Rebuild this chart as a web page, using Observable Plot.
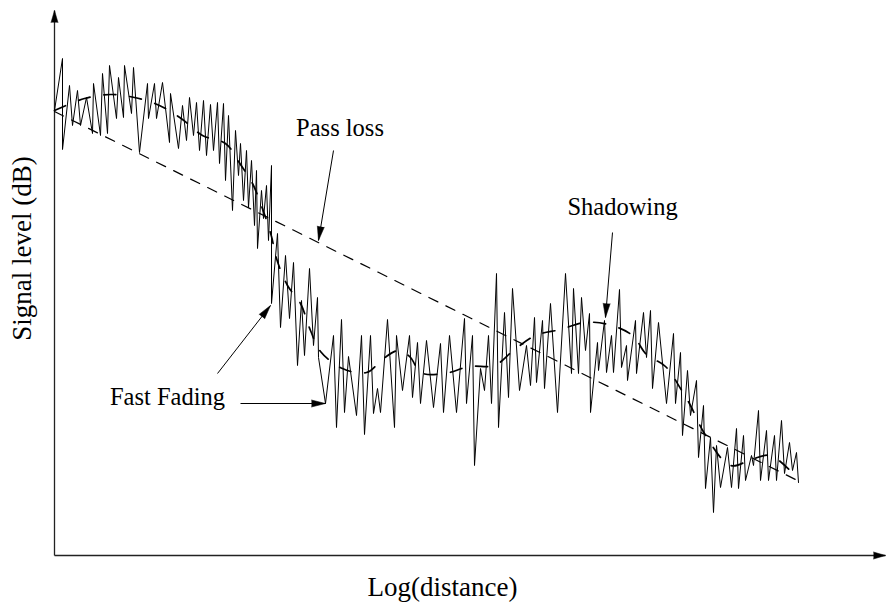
<!DOCTYPE html>
<html>
<head>
<meta charset="utf-8">
<script src="https://cdn.jsdelivr.net/npm/d3@7"></script>
<script src="https://cdn.jsdelivr.net/npm/@observablehq/plot@0.6"></script>
<style>html,body{margin:0;padding:0;background:#fff;}</style>
</head>
<body>
<div id="chart"></div>
<script>
// Fast-fading (received signal) samples: log distance vs signal level (arbitrary units)
const distance = [0,8,8,15,18,23,26,32,38,39,46,48,53,55,62,64,69,70,77,79,
  85,93,94,100,102,108,115,116,124,128,132,135,139,142,145,149,152,156,159,163,
  165,169,171,174,178,181,184,186,189,192,194,197,200,202,203,207,209,212,214,217,
  217,223,226,231,235,239,243,247,250,255,259,263,264,271,279,282,287,290,294,302,
  307,310,316,319,323,326,333,340,342,348,355,358,363,366,372,379,386,389,395,402,
  410,412,418,420,426,430,434,437,442,444,450,454,458,465,472,476,480,482,488,490,
  496,503,511,517,519,524,527,531,535,536,543,544,550,552,557,559,565,567,572,573,
  581,582,589,592,596,598,604,612,619,621,626,628,633,636,642,644,649,651,656,659,
  662,666,673,677,682,684,689,691,697,699,704,706,712,714,720,722,727,730,735,738,
  742,744];
const level = [445,497,406,470,430,465,430,458,422,472,420,482,422,490,437,478,438,490,442,488,
  403,472,437,472,437,473,413,462,407,450,415,458,420,453,405,455,400,451,405,453,
  392,452,375,440,345,425,380,412,355,405,348,395,330,385,307,365,337,370,315,390,
  252,322,228,300,237,293,190,255,200,287,210,258,198,152,220,128,236,143,199,140,
  220,121,220,142,167,143,236,128,220,165,220,158,213,152,215,148,212,143,220,143,
  237,152,220,90,187,165,220,152,282,128,243,158,267,165,210,170,238,173,235,167,
  252,143,282,182,267,182,258,205,242,143,213,185,235,183,220,183,266,188,210,175,
  235,182,243,198,245,167,233,152,222,152,203,120,185,140,175,98,150,67,118,43,
  110,68,108,68,127,67,120,75,100,90,145,75,125,75,120,75,135,82,113,85,
  103,73];

// Path loss (straight dashed line)
const passDist = [0, 743];
const passLevel = [444, 75];

// Shadowing (slow dashed curve)
const shadowDist = [0,30,56,80,105,128,148,171,186,198,209,217,222,233,246,256,266,288,312,329,344,356,366,390,415,440,459,481,506,530,554,578,592,611,626,636,650,676,697,716,743];
const shadowLevel = [445,457,461,458,450,436,420,412,391,372,344,319,297,270,252,225,204,187,183,197,205,198,183,182,189,190,205,220,226,233,231,220,201,189,167,150,122,90,96,100,77];

// Annotations
const annLabels = ["Pass loss", "Shadowing", "Fast Fading"];
const annDist = [285.5, 568, 113];
const annLevel = [420, 341, 151];
const arrowX1 = [279, 558, 163, 186];
const arrowY1 = [405, 323, 182, 152];
const arrowX2 = [264, 551, 216, 271];
const arrowY2 = [315, 238, 250, 152];

// Axes (drawn as arrows)
const axisX1 = [0, 0];
const axisY1 = [0, 0];
const axisX2 = [0, 831];
const axisY2 = [545, 0];

const xLabel = "Log(distance)";
const yLabel = "Signal level (dB)";
const xLabelPos = [388, -40];
const yLabelPos = [-24, 307];

const noise = distance.map((d, i) => ({d, v: level[i]}));
const pass = passDist.map((d, i) => ({d, v: passLevel[i]}));
const shadow = shadowDist.map((d, i) => ({d, v: shadowLevel[i]}));
const anns = annLabels.map((t, i) => ({t, d: annDist[i], v: annLevel[i]}));
const arrows = arrowX1.map((x1, i) => ({x1, y1: arrowY1[i], x2: arrowX2[i], y2: arrowY2[i]}));
const axes = axisX1.map((x1, i) => ({x1, y1: axisY1[i], x2: axisX2[i], y2: axisY2[i]}));
const angle = (a) => Math.atan2(a.x2 - a.x1, a.y2 - a.y1) * 180 / Math.PI;

const serif = "Liberation Serif, Times New Roman, serif";

const plot = Plot.plot({
  width: 887,
  height: 607,
  marginLeft: 54,
  marginRight: 2,
  marginTop: 10,
  marginBottom: 52,
  x: {domain: [0, 831], axis: null},
  y: {domain: [0, 545], axis: null},
  style: {background: "white", fontFamily: serif, overflow: "visible"},
  marks: [
    Plot.link(axes, {x1: "x1", y1: "y1", x2: "x2", y2: "y2", stroke: "#222", strokeWidth: 1.3}),
    Plot.vector(axes, {x: "x2", y: "y2", rotate: angle, length: 12, r: 3.5, anchor: "end", shape: "spike", fill: "black", stroke: "black", strokeWidth: 0.5}),
    Plot.line(noise, {x: "d", y: "v", stroke: "black", strokeWidth: 1, strokeLinejoin: "miter", strokeMiterlimit: 3}),
    Plot.line(pass, {x: "d", y: "v", stroke: "black", strokeWidth: 1.2, strokeDasharray: "10,9"}),
    Plot.line(shadow, {x: "d", y: "v", curve: "catmull-rom", stroke: "black", strokeWidth: 1.7, strokeDasharray: "12,14"}),
    Plot.link(arrows, {x1: "x1", y1: "y1", x2: "x2", y2: "y2", stroke: "black", strokeWidth: 1}),
    Plot.vector(arrows, {x: "x2", y: "y2", rotate: angle, length: 14, r: 3.5, anchor: "end", shape: "spike", fill: "black", stroke: "black", strokeWidth: 0.5}),
    Plot.text(anns, {x: "d", y: "v", text: "t", fontSize: 24.5, fontFamily: serif, textAnchor: "middle", lineAnchor: "bottom", fill: "black"}),
    Plot.text([xLabel], {x: xLabelPos[0], y: xLabelPos[1], text: (d) => d, fontSize: 27, fontFamily: serif, textAnchor: "middle", lineAnchor: "bottom", fill: "black"}),
    Plot.text([yLabel], {x: yLabelPos[0], y: yLabelPos[1], text: (d) => d, rotate: -90, fontSize: 27, fontFamily: serif, textAnchor: "middle", lineAnchor: "bottom", fill: "black"})
  ]
});
document.getElementById("chart").appendChild(plot);
</script>
</body>
</html>
